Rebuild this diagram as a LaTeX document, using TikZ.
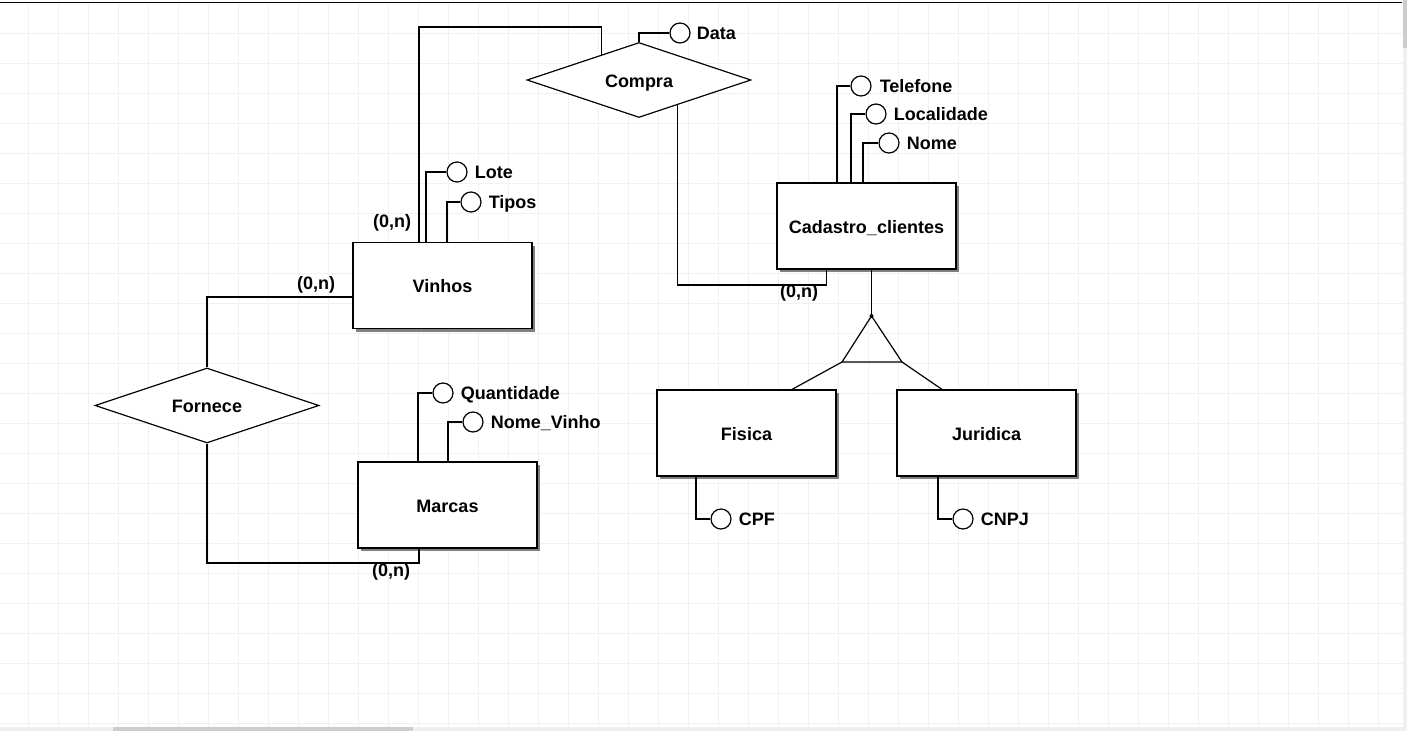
\documentclass[tikz,border=0pt]{standalone}
\usepackage{fontspec}
\setmainfont{Liberation Sans}
\usepackage{tikz}
\usetikzlibrary{shapes.geometric,positioning,calc,shadows}
\definecolor{gridcol}{RGB}{235,242,250}
\definecolor{barcol}{RGB}{240,240,240}
\definecolor{thumbcol}{RGB}{205,205,205}
\newcommand{\erfont}{\fontsize{18}{21}\selectfont\bfseries}
\tikzstyle{entity} = [rectangle, draw=black, fill=white, line width=1.2pt, minimum width=179pt, minimum height=86pt, text height=14pt, text depth=0pt, general shadow={fill=black!50, shadow xshift=3pt, shadow yshift=-3pt}, font=\erfont]
\tikzstyle{relation} = [diamond, draw=black, fill=white, line width=1.2pt, aspect=3, inner sep=0pt, minimum width=224pt, minimum height=75pt, text height=14pt, text depth=0pt, font=\erfont]
\tikzstyle{attr} = [circle, draw=black, fill=white, line width=1.2pt, minimum size=20pt, inner sep=0pt]
\tikzstyle{attrname} = [inner sep=0pt, text height=13pt, text depth=0pt, font=\erfont]
\tikzstyle{card} = [inner sep=0pt, text height=13pt, text depth=0pt, font=\erfont]
\tikzstyle{link} = [line width=1.2pt]

\begin{document}
\begin{tikzpicture}[x=1pt,y=-1pt]
\useasboundingbox (0,0) rectangle (1407,731);
\fill[white] (0,0) rectangle (1407,731);
\foreach \x in {28,58,...,1378}
    \draw[gridcol, line width=1pt] (\x,3) -- (\x,727);
\foreach \y in {33,63,...,723}
    \draw[gridcol, line width=1pt] (0,\y) -- (1403,\y);
\draw[black, line width=1.6pt] (0,2.5) -- (1402,2.5);
\fill[barcol] (1403,0) rectangle (1407,731);
\fill[thumbcol] (1403,0) rectangle (1407,48);
\fill[barcol] (0,727) rectangle (1403,731);
\fill[thumbcol] (113,727) rectangle (413,731);

\node[relation] (compra) at (639,80) {Compra};
\node[relation] (fornece) at (207,405.5) {Fornece};
\node[entity] (vinhos) at (442.5,285.5) {Vinhos};
\node[entity] (cadastro) at (866.5,226) {Cadastro\_clientes};
\node[entity] (marcas) at (447.5,505) {Marcas};
\node[entity] (fisica) at (746.5,433) {Fisica};
\node[entity] (juridica) at (986.5,433) {Juridica};

\node[attr] (data) at (680,33) {};
\node[attrname, right=6pt of data] (datatext) {Data};
\node[attr] (telefone) at (861,86) {};
\node[attrname, right=8pt of telefone] (telefonetext) {Telefone};
\node[attr] (localidade) at (876,114) {};
\node[attrname, right=7pt of localidade] (localidadetext) {Localidade};
\node[attr] (nome) at (889,143) {};
\node[attrname, right=7pt of nome] (nometext) {Nome};
\node[attr] (lote) at (457,172) {};
\node[attrname, right=7pt of lote] (lotetext) {Lote};
\node[attr] (tipos) at (471,202) {};
\node[attrname, right=7pt of tipos] (tipostext) {Tipos};
\node[attr] (quantidade) at (443,393) {};
\node[attrname, right=7pt of quantidade] (quantidadetext) {Quantidade};
\node[attr] (nomevinho) at (473,422) {};
\node[attrname, right=7pt of nomevinho] (nomevinhotext) {Nome\_Vinho};
\node[attr] (cpf) at (721,519) {};
\node[attrname, right=7pt of cpf] (cpftext) {CPF};
\node[attr] (cnpj) at (963,519) {};
\node[attrname, right=7pt of cnpj] (cnpjtext) {CNPJ};

\draw[link] (compra.north) |- (data);
\draw[link] ([xshift=-29.5pt]cadastro.north) |- (telefone);
\draw[link] ([xshift=-15.5pt]cadastro.north) |- (localidade);
\draw[link] ([xshift=-3.5pt]cadastro.north) |- (nome);
\draw[link] ([xshift=-16.5pt]vinhos.north) |- (lote);
\draw[link] ([xshift=4.5pt]vinhos.north) |- (tipos);
\draw[link] ([xshift=-29.5pt]marcas.north) |- (quantidade);
\draw[link] ([xshift=0.5pt]marcas.north) |- (nomevinho);
\draw[link] ([xshift=-50.5pt]fisica.south) |- (cpf);
\draw[link] ([xshift=-48.5pt]juridica.south) |- (cnpj);

\coordinate (cv) at (419,27);
\coordinate (cc) at (826.5,285);
\coordinate (fm) at (419,563);
\draw[link] ($(compra.north)!0.333!(compra.west)$) |- (cv) -- ([xshift=-23.5pt]vinhos.north);
\draw[link] ($(compra.south)!0.345!(compra.east)$) |- (cc) -- ([xshift=-40pt]cadastro.south);
\draw[link] (fornece.north) |- ([yshift=-11.5pt]vinhos.west);
\draw[link] (fornece.south) |- (fm) -- ([xshift=-28.5pt]marcas.south);

\coordinate (tri) at (871.5,316);
\coordinate (trileft) at (842,362);
\coordinate (triright) at (902,362);
\draw[link] ([xshift=5pt]cadastro.south) -- (tri);
\draw[link, line join=miter] (tri) -- (trileft) -- (triright) -- cycle;
\fill (tri) circle (2pt);
\draw[link] (trileft) -- ([xshift=45.5pt]fisica.north);
\draw[link] (triright) -- ([xshift=-44.5pt]juridica.north);

\node[card] (cardvinhos) at (392,221) {(0,n)};
\node[card] (cardfornece) at (316,283) {(0,n)};
\node[card] (cardcadastro) at (799,291) {(0,n)};
\node[card] (cardmarcas) at (391,570) {(0,n)};
\end{tikzpicture}
\end{document}
